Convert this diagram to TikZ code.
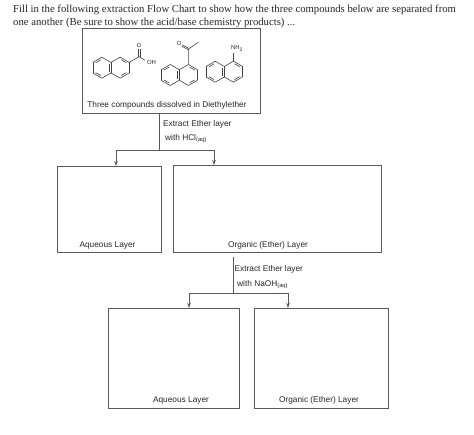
\documentclass[tikz,border=0pt]{standalone}
\usepackage{fontspec}
\setmainfont{Liberation Serif}
\setsansfont{Liberation Sans}
\usetikzlibrary{positioning,arrows.meta,calc}

\tikzset{
    pics/naphthalene/.style={code={
        \foreach \a in {30,90,...,330} {
            \draw[bond] ($(-9.1pt,0)+(\a:10.5pt)$) -- ($(-9.1pt,0)+(\a+60:10.5pt)$);
            \draw[bond] ($(9.1pt,0)+(\a:10.5pt)$) -- ($(9.1pt,0)+(\a+60:10.5pt)$);
        }
        \foreach \a in {90,210} {
            \draw[bond] ($(-9.1pt,0)+(\a+8:8pt)$) -- ($(-9.1pt,0)+(\a+52:8pt)$);
        }
        \foreach \a in {30,270} {
            \draw[bond] ($(9.1pt,0)+(\a+8:8pt)$) -- ($(9.1pt,0)+(\a+52:8pt)$);
        }
        \draw[bond] (-2pt,4pt) -- (-2pt,-4pt);
    }}
}

\begin{document}
\begin{tikzpicture}[
    x=1pt, y=1pt,
    bond/.style={draw=black!75, line width=0.6pt},
    flowbox/.style={rectangle, draw=black!65, line width=0.8pt, inner sep=0pt, outer sep=0pt},
    flowline/.style={draw=black!65, line width=0.8pt},
    arrow/.style={flowline, -{Stealth[length=5pt, width=3.5pt]}},
    layer/.style={font=\sffamily\fontsize{8.3}{9}\selectfont, text=black!85, inner sep=0pt},
    step label/.style={font=\sffamily\fontsize{8.3}{9}\selectfont, text=black!85, inner sep=0pt, anchor=base west},
    atom/.style={font=\sffamily\fontsize{6}{6}\selectfont, text=black!85, inner sep=0pt}
]
\useasboundingbox (0,0) rectangle (474,-434);

% Question text
\node[anchor=north west, align=left, inner sep=0pt, text=black!85,
    font=\fontsize{10.7}{13}\selectfont] (question) at (13,-5)
    {Fill in the following extraction Flow Chart to show how the three compounds below are separated from\\
     one another (Be sure to show the acid/base chemistry products) ...};

% Starting mixture
\node[flowbox, anchor=north west, minimum width=178pt, minimum height=85pt] (mixture) at (82,-28) {};
\node[layer, above=4pt of mixture.south, xshift=-4pt] (mixtureText) {Three compounds dissolved in Diethylether};

% Compounds
\pic at (111,-67.7) {naphthalene};
\draw[bond] (129.2,-62.4) -- (139,-56.7) -- (145,-60.2);
\draw[bond] (138.2,-56.7) -- (138.2,-49) (139.8,-56.7) -- (139.8,-49);
\node[atom] (acidO) at (139,-45.7) {O};
\node[atom] (acidOH) at (151.5,-62.5) {OH};

\pic at (179.3,-75) {naphthalene};
\draw[bond] (188.4,-64.5) -- (188.4,-49) -- (198.3,-42.3);
\draw[bond] (188.4,-49) ++(0,0.8) -- (182.5,-44.9) (188.4,-49) ++(0,-0.8) -- (181.8,-46.2);
\node[atom] (ketoneO) at (179.3,-43.3) {O};

\pic at (224.3,-71.7) {naphthalene};
\draw[bond] (233.4,-61.2) -- (233.4,-53);
\node[atom] (amineN) at (237,-48.5) {NH\textsubscript{2}};

% First extraction
\node[flowbox, below left=53pt and 10pt of mixture.south, minimum width=104pt, minimum height=86pt] (aqueousOne) {};
\node[flowbox, below right=52pt and 2pt of mixture.south, minimum width=208pt, minimum height=87pt] (organicOne) {};
\node[layer, above=3pt of aqueousOne.south, xshift=-1.5pt] (aqueousOneText) {Aqueous Layer};
\node[layer, above=3pt of organicOne.south, xshift=-9pt] (organicOneText) {Organic (Ether) Layer};

\coordinate (stemOne) at ($(mixture.south)+(-12,0)$);
\coordinate[below=37pt of stemOne] (forkOne);
\coordinate (aqueousOneIn) at ($(aqueousOne.north)+(7,0)$);
\coordinate (organicOneIn) at ($(organicOne.north)+(-63,0)$);
\draw[flowline] (stemOne) -- (forkOne);
\draw[arrow] (forkOne) -| (aqueousOneIn);
\draw[arrow] (forkOne) -| (organicOneIn);
\node[step label] (extractOne) at (163,-126.5) {Extract Ether layer};
\node[step label] (reagentOne) at (165,-140.5) {with HCl\textsubscript{(aq)}};

% Second extraction
\node[flowbox, below left=56pt and 38pt of organicOne.south, minimum width=131pt, minimum height=100pt] (aqueousTwo) {};
\node[flowbox, below right=56pt and -23pt of organicOne.south, minimum width=134pt, minimum height=100pt] (organicTwo) {};
\node[layer, above=4pt of aqueousTwo.south, xshift=7.5pt] (aqueousTwoText) {Aqueous Layer};
\node[layer, above=4pt of organicTwo.south, xshift=-2pt] (organicTwoText) {Organic (Ether) Layer};

\coordinate (stemTwo) at ($(organicOne.south)+(-44,-5)$);
\coordinate[below=36pt of stemTwo] (forkTwo);
\coordinate (aqueousTwoIn) at ($(aqueousTwo.north)+(15.5,0)$);
\coordinate (organicTwoIn) at ($(organicTwo.north)+(-33,0)$);
\draw[flowline] (stemTwo) -- (forkTwo);
\draw[arrow] (forkTwo) -| (aqueousTwoIn);
\draw[arrow] (forkTwo) -| (organicTwoIn);
\node[step label] (extractTwo) at (234.5,-271) {Extract Ether layer};
\node[step label] (reagentTwo) at (237,-286) {with NaOH\textsubscript{(aq)}};

\end{tikzpicture}
\end{document}
